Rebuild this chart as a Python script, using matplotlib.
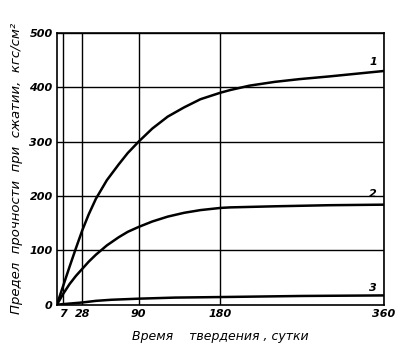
import matplotlib
matplotlib.use("Agg")
import matplotlib.pyplot as plt

days_1 = [0, 7, 14, 21, 28, 35, 43, 55, 68, 78, 90, 105, 122, 140, 158, 180, 191, 212, 240, 267, 300, 330, 360]
strength_1 = [0, 35, 70, 104, 137, 166, 195, 229, 258, 279, 300, 324, 346, 363, 378, 390, 395, 403, 410, 415, 420, 425, 430]
days_2 = [0, 7, 14, 21, 28, 35, 43, 55, 68, 78, 90, 105, 122, 140, 158, 180, 191, 240, 300, 360]
strength_2 = [0, 20, 38, 53, 66, 79, 92, 109, 124, 134, 143, 153, 162, 169, 174, 178, 179, 181, 183, 184]
days_3 = [0, 7, 14, 28, 43, 60, 90, 130, 180, 270, 360]
strength_3 = [0, 1, 2, 4, 7, 9, 11, 13, 14, 16, 17]
x_ticks = [7, 28, 90, 180, 360]
y_ticks = [0, 100, 200, 300, 400, 500]
curve_labels = ["1", "2", "3"]

fig = plt.figure(figsize=(3.95, 3.58), dpi=100)
ax = fig.add_axes([0.144, 0.149, 0.828, 0.759])
ax.set_xlim(0, 360)
ax.set_ylim(0, 500)
for x in x_ticks:
    ax.axvline(x, color="black", lw=1.0, zorder=1)
for y in y_ticks[1:]:
    ax.axhline(y, color="black", lw=1.0, zorder=1)
for d, s in [(days_1, strength_1), (days_2, strength_2), (days_3, strength_3)]:
    ax.plot(d, s, color="black", lw=1.8, zorder=3, solid_joinstyle="round")
lab_kw = dict(fontsize=8, style="italic", fontweight="bold", ha="center", va="bottom")
ax.text(348, 437, curve_labels[0], **lab_kw)
ax.text(348, 194, curve_labels[1], **lab_kw)
ax.text(348, 21, curve_labels[2], **lab_kw)
for sp in ax.spines.values():
    sp.set_linewidth(1.2)
ax.set_xticks(x_ticks)
ax.set_yticks(y_ticks)
ax.tick_params(length=0, labelsize=8, pad=3)
for lab in ax.get_xticklabels() + ax.get_yticklabels():
    lab.set_fontstyle("italic")
    lab.set_fontweight("bold")
ax.set_xlabel("Время    твердения , сутки", fontsize=9, style="italic", labelpad=8)
ax.set_ylabel("Предел  прочности  при  сжатии,  кгс/см²", fontsize=9.5, style="italic", labelpad=5)
fig.savefig("out.png", dpi=100)
